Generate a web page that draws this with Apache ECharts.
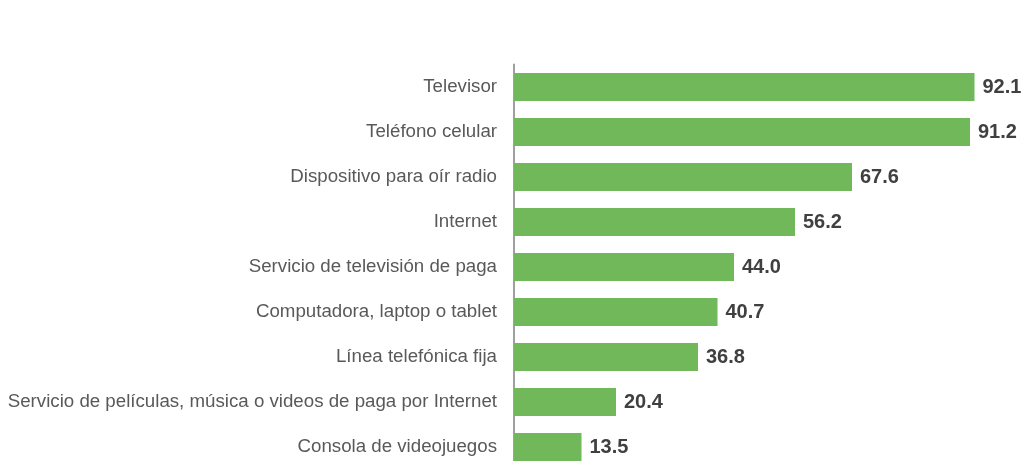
<!DOCTYPE html>
<html>
<head>
<meta charset="utf-8">
<script src="https://cdn.jsdelivr.net/npm/echarts@6/dist/echarts.min.js"></script>
<style>
  html, body { margin: 0; padding: 0; background: #fff; }
  #chart { width: 1027px; height: 461px; }
</style>
</head>
<body>
<div id="chart"></div>
<script>
// categorias de arriba hacia abajo
const categories = [
  "Televisor",
  "Teléfono celular",
  "Dispositivo para oír radio",
  "Internet",
  "Servicio de televisión de paga",
  "Computadora, laptop o tablet",
  "Línea telefónica fija",
  "Servicio de películas, música o videos de paga por Internet",
  "Consola de videojuegos"
];
const values = [92.1, 91.2, 67.6, 56.2, 44.0, 40.7, 36.8, 20.4, 13.5];

const chart = echarts.init(document.getElementById("chart"));

chart.setOption({
  animation: false,
  grid: {
    left: 514,
    width: 500,
    top: 64.5,
    height: 405,
    containLabel: false,
    outerBoundsMode: "none"
  },
  xAxis: {
    type: "value",
    min: 0,
    max: 100,
    show: false
  },
  yAxis: {
    type: "category",
    data: categories,
    inverse: true,
    axisLine: { lineStyle: { color: "#a0a0a0", width: 2 } },
    axisTick: { show: false },
    axisLabel: {
      margin: 17,
      color: "#595959",
      fontSize: 18.7,
      padding: [3, 0, 0, 0],
      fontFamily: "Liberation Sans, Arial, sans-serif"
    }
  },
  series: [
    {
      type: "bar",
      data: values,
      barCategoryGap: "38%",
      itemStyle: { color: "#70b85a" },
      label: {
        show: true,
        position: "right",
        distance: 8,
        padding: [3, 0, 0, 0],
        formatter: p => p.value.toFixed(1),
        color: "#404040",
        fontSize: 20,
        fontWeight: "bold",
        fontFamily: "Liberation Sans, Arial, sans-serif"
      }
    }
  ]
});
</script>
</body>
</html>
